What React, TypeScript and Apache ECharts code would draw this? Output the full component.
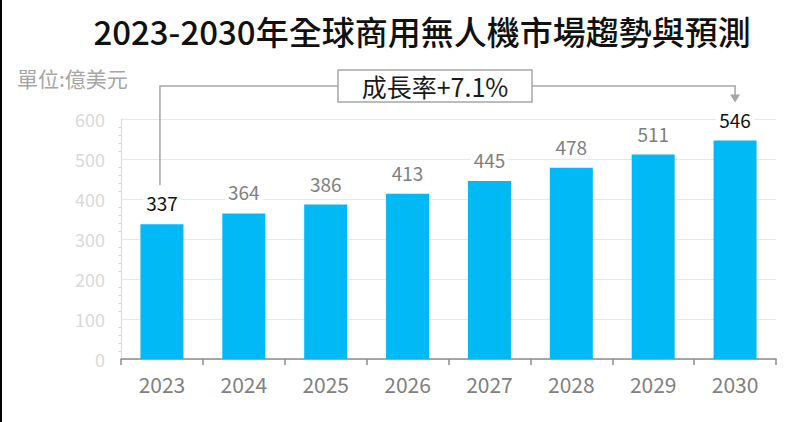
import React, { useEffect, useRef } from "react";
import * as echarts from "echarts";

const titleText = "2023-2030年全球商用無人機市場趨勢與預測";
const unitText = "單位:億美元";
const growthText = "成長率+7.1%";
const years = ["2023", "2024", "2025", "2026", "2027", "2028", "2029", "2030"];
const values = [337, 364, 386, 413, 445, 478, 511, 546];
const highlighted = ["2023", "2030"];

const FONT = "'Noto Sans CJK TC', 'Noto Sans', sans-serif";
const GRAY_LINE = "#a6a6a6";

export default function App() {
  const ref = useRef<HTMLDivElement>(null);
  useEffect(() => {
    if (!ref.current) return;
    const chart = echarts.init(ref.current, undefined, { renderer: "svg" });
    chart.setOption({
      animation: false,
      backgroundColor: "#ffffff",
      textStyle: { fontFamily: FONT },
      title: {
        text: titleText,
        left: 417,
        textAlign: "center",
        top: 9,
        textStyle: { fontFamily: FONT, fontSize: 33, fontWeight: 500, color: "#111111" },
      },
      grid: { left: 121, right: 21, top: 119, bottom: 63, containLabel: false },
      xAxis: {
        type: "category",
        data: years,
        axisLine: { show: true, lineStyle: { color: "#8c8c8c", width: 1.5 } },
        axisTick: { show: true, length: 6, lineStyle: { color: "#8c8c8c", width: 1.5 } },
        axisLabel: { color: "#808080", fontSize: 21, margin: 14, fontFamily: FONT },
      },
      yAxis: {
        type: "value",
        min: 0,
        max: 600,
        interval: 100,
        axisLine: { show: true, lineStyle: { color: "#d9d9d9", width: 1 } },
        axisTick: { show: false },
        minorTick: { show: true, splitNumber: 5, length: 3, lineStyle: { color: "#d9d9d9" } },
        axisLabel: { color: "#d9d9d9", fontSize: 18, margin: 16, fontFamily: FONT },
        splitLine: { show: true, lineStyle: { color: "#e8e8e8", width: 1 } },
      },
      series: [
        {
          type: "bar",
          data: values.map((v, i) => ({
            value: v,
            label: {
              color: highlighted.includes(years[i]) ? "#111111" : "#808080",
            },
          })),
          barWidth: 43,
          itemStyle: { color: "#00B9F5" },
          label: {
            show: true,
            position: "top",
            distance: 12,
            fontSize: 19,
            fontFamily: FONT,
            backgroundColor: "#ffffff",
            padding: [0, 3],
          },
        },
      ],
    });

    const first = chart.convertToPixel({ seriesIndex: 0 }, [0, values[0]]) as number[];
    const last = chart.convertToPixel({ seriesIndex: 0 }, [years.length - 1, values[values.length - 1]]) as number[];
    const lineY = 86;
    const boxL = 338;
    const boxR = 532;
    const boxT = 70;
    const boxB = 102;
    const lineStyle = { stroke: GRAY_LINE, lineWidth: 1.5 };
    chart.setOption({
      graphic: [
        { type: "line", shape: { x1: 1, y1: 0, x2: 1, y2: 422 }, style: { stroke: "#000000", lineWidth: 2 } },
        {
          type: "text",
          left: 17,
          top: 67,
          style: { text: unitText, fontSize: 21, fontFamily: FONT, fill: "#a6a6a6" },
        },
        {
          type: "polyline",
          shape: { points: [[first[0] - 2, first[1] - 39], [first[0] - 2, lineY], [boxL, lineY]] },
          style: { ...lineStyle, fill: "none" },
        },
        {
          type: "polyline",
          shape: { points: [[boxR, lineY], [last[0], lineY], [last[0], last[1] - 45]] },
          style: { ...lineStyle, fill: "none" },
        },
        {
          type: "polygon",
          shape: {
            points: [
              [last[0] - 5, last[1] - 46],
              [last[0] + 5, last[1] - 46],
              [last[0], last[1] - 38],
            ],
          },
          style: { fill: GRAY_LINE, stroke: "none" },
        },
        {
          type: "rect",
          shape: { x: boxL, y: boxT, width: boxR - boxL, height: boxB - boxT },
          style: { fill: "#ffffff", stroke: GRAY_LINE, lineWidth: 1.5 },
        },
        {
          type: "text",
          x: (boxL + boxR) / 2,
          y: (boxT + boxB) / 2,
          style: {
            text: growthText,
            fontSize: 25,
            fontFamily: FONT,
            fill: "#1a1a1a",
            align: "center",
            verticalAlign: "middle",
          },
        },
      ],
    });
    return () => chart.dispose();
  }, []);
  return (
    <div
      ref={ref}
      style={{ position: "fixed", left: 0, top: 0, width: 797, height: 422, background: "#fff" }}
    />
  );
}
